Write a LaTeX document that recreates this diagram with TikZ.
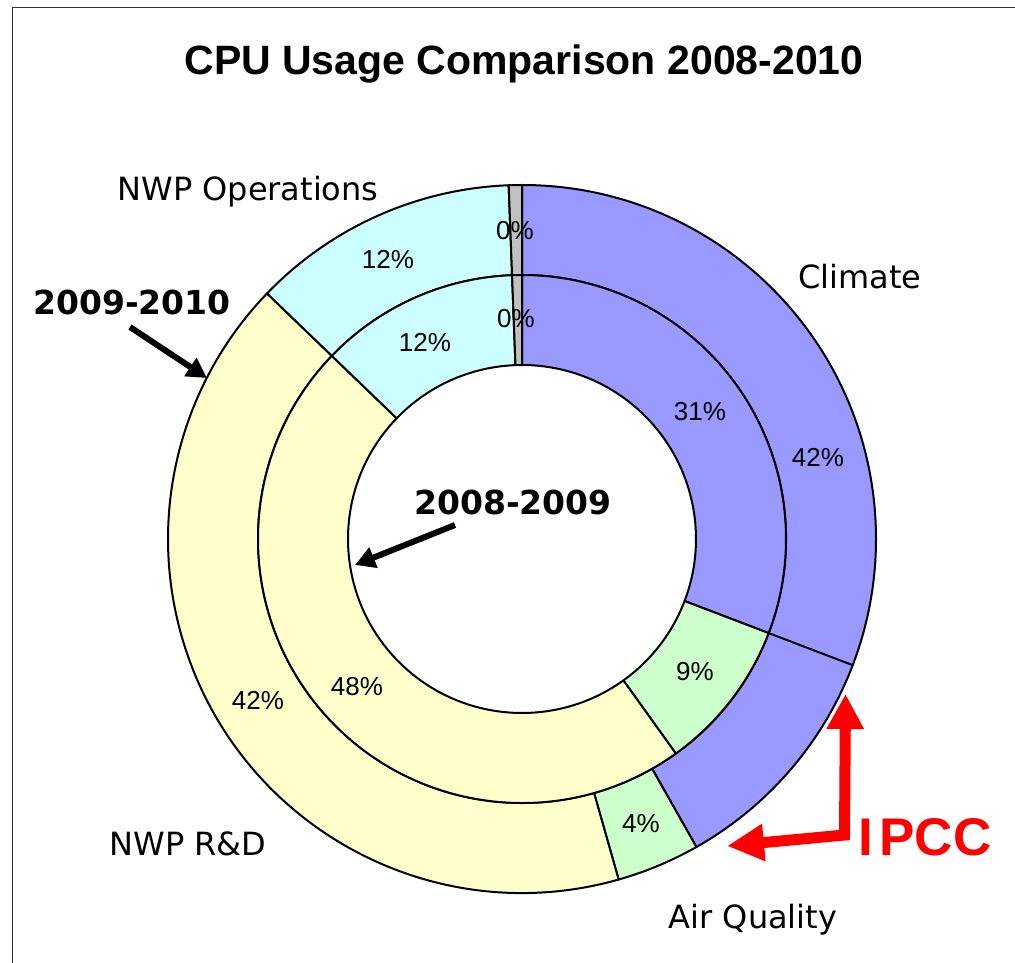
\documentclass[tikz,border=0pt]{standalone}
\usepackage{fontspec}
\setmainfont{Liberation Sans}
\newfontfamily\verd{DejaVu Sans}
\usetikzlibrary{arrows.meta}
\definecolor{climate}{HTML}{9999FF}
\definecolor{airq}{HTML}{CCFFCC}
\definecolor{nwprd}{HTML}{FFFFCC}
\definecolor{nwpops}{HTML}{CCFFFF}
\definecolor{othergray}{HTML}{C0C0C0}
% ring sector: fill colour, inner radius, outer radius, start %, end % (clockwise from 12 o'clock)
\newcommand{\ringseg}[5]{%
  \pgfmathsetmacro{\segA}{90-3.6*#4}%
  \pgfmathsetmacro{\segB}{90-3.6*#5}%
  \filldraw[segline, fill=#1] (\segA:#3 pt) arc[start angle=\segA, end angle=\segB, radius=#3 pt]
    -- (\segB:#2 pt) arc[start angle=\segB, end angle=\segA, radius=#2 pt] -- cycle;}
\begin{document}
\begin{tikzpicture}[x=1pt,y=1pt,
  segline/.style={draw=black, line width=2pt, line join=round},
  pct/.style={font=\fontsize{26}{26}\selectfont, inner sep=0pt},
  cat/.style={font=\verd\fontsize{32}{32}\selectfont, inner sep=0pt, anchor=base},
  period/.style={font=\verd\bfseries\fontsize{33}{33}\selectfont, inner sep=0pt, anchor=base},
  callout/.style={line width=6pt, -{Triangle[length=20pt,width=21pt]}},
  ipccarrow/.style={draw=red, line width=11pt, line join=miter,
    {Triangle[length=37pt,width=35pt]}-{Triangle[length=35pt,width=35pt]}}
]
\useasboundingbox (0,0) rectangle (1015,962);
\clip (0,0) rectangle (1015,962);
\fill[white] (0,0) rectangle (1015,962);
% chart frame
\draw[line width=1.5pt, black!80] (12.7,-20) -- (12.7,954.7) -- (1040,954.7);

% title
\node[font=\bfseries\fontsize{41}{41}\selectfont, anchor=base, inner sep=0pt] (title) at (524,887) {CPU Usage Comparison 2008-2010};

\begin{scope}[shift={(522,423)}]
  % outer ring: 2009-2010
  \ringseg{climate}{264}{354}{0}{41.8}
  \ringseg{airq}{264}{354}{41.8}{45.6}
  \ringseg{nwprd}{264}{354}{45.6}{87.2}
  \ringseg{nwpops}{264}{354}{87.2}{99.4}
  \ringseg{othergray}{264}{354}{99.4}{100}
  % IPCC share within the climate sector
  \pgfmathsetmacro{\segC}{90-3.6*30.8}
  \coordinate (ipccin) at (\segC:264pt);
  \coordinate (ipccout) at (\segC:354pt);
  \draw[segline] (ipccin) -- (ipccout);
  % inner ring: 2008-2009
  \ringseg{climate}{174}{264}{0}{30.8}
  \ringseg{airq}{174}{264}{30.8}{40.1}
  \ringseg{nwprd}{174}{264}{40.1}{87.2}
  \ringseg{nwpops}{174}{264}{87.2}{99.4}
  \ringseg{othergray}{174}{264}{99.4}{100}
\end{scope}

% percentage labels
\node[pct] (p-ops-o) at (388,702) {12\%};
\node[pct] (p-oth-o) at (515,731) {0\%};
\node[pct] (p-ops-i) at (425,619) {12\%};
\node[pct] (p-oth-i) at (516,643) {0\%};
\node[pct] (p-cli-i) at (700,550) {31\%};
\node[pct] (p-cli-o) at (818,504) {42\%};
\node[pct] (p-aq-i) at (695,290) {9\%};
\node[pct] (p-aq-o) at (641,138) {4\%};
\node[pct] (p-rd-o) at (258,262) {42\%};
\node[pct] (p-rd-i) at (357,275) {48\%};

% category labels
\node[cat] (l-ops) at (248,761) {NWP Operations};
\node[cat] (l-cli) at (860,673) {Climate};
\node[cat] (l-rd) at (188,107) {NWP R\&D};
\node[cat] (l-aq) at (753,34) {Air Quality};

% period call-outs
\node[period] (y0910) at (132,647) {2009-2010};
\node[period] (y0809) at (513,447) {2008-2009};
\coordinate (a0910s) at (130,635);
\coordinate (a0910e) at (207,584);
\coordinate (a0809s) at (455,437);
\coordinate (a0809e) at (355,397);
\draw[callout] (a0910s) -- (a0910e);
\draw[callout] (a0809s) -- (a0809e);

% IPCC call-out
\node[font=\bfseries\fontsize{53}{53}\selectfont, text=red, anchor=base, inner sep=0pt] (ipcc) at (925,107) {I\kern6pt PCC};
\coordinate (ipccH) at (727,116);
\coordinate (ipccK) at (844.5,127);
\coordinate (ipccV) at (845.5,268);
\draw[ipccarrow] (ipccH) -- (ipccK) -- (ipccV);
\end{tikzpicture}
\end{document}
